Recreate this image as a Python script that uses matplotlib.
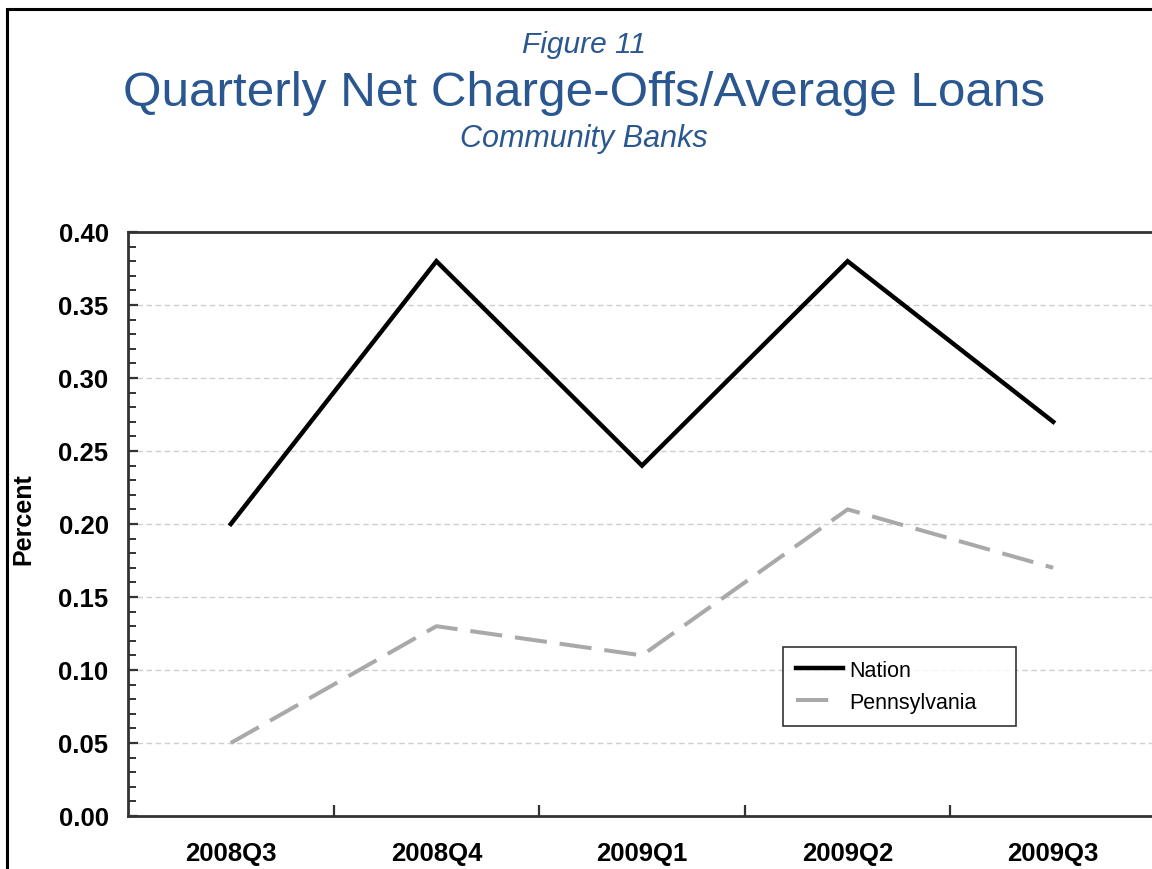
import numpy as np
import matplotlib.pyplot as plt
from matplotlib.patches import Rectangle
from matplotlib.ticker import MultipleLocator

quarters = ['2008Q3', '2008Q4', '2009Q1', '2009Q2', '2009Q3']
nation = [0.20, 0.38, 0.24, 0.38, 0.27]
pennsylvania = [0.05, 0.13, 0.11, 0.21, 0.17]

TITLE_BLUE = '#2b5791'

plt.rcParams['font.family'] = ['Liberation Sans', 'DejaVu Sans']

fig = plt.figure(figsize=(11.52, 8.70), dpi=100)
W, H = 1152, 870

# thin black frame round the whole chart (runs off the right and bottom)
fig.patches.append(Rectangle((6.5 / W, -0.05), 1.2, 1.05 - 9.5 / H,
                             transform=fig.transFigure, fill=False,
                             edgecolor='black', linewidth=2.2, zorder=0))

ax = fig.add_axes([128 / W, 1 - 817 / H, (1156 - 128) / W, (817 - 233) / H])
AW, AH = 1156 - 128, 817 - 233

x = np.arange(len(quarters))
ax.plot(x, nation, color='black', linewidth=3.2, label='Nation',
        solid_joinstyle='miter', zorder=3)
ax.plot(x, pennsylvania, color='#a9a9a9', linewidth=2.9, label='Pennsylvania',
        dashes=(8, 3.2), zorder=3)

ax.set_xlim(-0.5, len(quarters) - 0.5)
ax.set_ylim(0, 0.40)

ax.yaxis.set_major_locator(MultipleLocator(0.05))
ax.yaxis.set_minor_locator(MultipleLocator(0.01))
ax.set_yticklabels([f'{v:.2f}' for v in ax.get_yticks()])
ax.tick_params(axis='y', which='major', direction='in', length=7, width=1.6,
               color='#333333', labelsize=18.5, pad=14)
ax.tick_params(axis='y', which='minor', direction='in', length=6, width=1.4,
               color='#333333')

# category labels sit between the boundary ticks
ax.set_xticks(np.arange(0.5, len(quarters) - 0.5))
ax.set_xticks(x, minor=True)
ax.set_xticklabels([])
ax.set_xticklabels(quarters, minor=True)
ax.tick_params(axis='x', which='major', direction='in', length=8, width=1.6,
               color='#333333')
ax.tick_params(axis='x', which='minor', length=0, labelsize=18.5, pad=18)
for lbl in ax.get_yticklabels() + ax.get_xticklabels(minor=True):
    lbl.set_fontweight('bold')

for yv in np.arange(0.05, 0.40, 0.05):
    ax.axhline(yv, color='#cfcfcf', linewidth=1.0, dashes=(4, 2.5), zorder=1)

for s in ax.spines.values():
    s.set_color('#333333')
    s.set_linewidth(2.0)

ax.set_ylabel('Percent', fontsize=18, fontweight='bold')
ax.yaxis.set_label_coords(-(128 - 35) / AW, (817 - 519) / AH)

leg = ax.legend(loc='upper left', mode='expand',
                bbox_to_anchor=((783 - 128) / AW, (817 - 648) / AH,
                                (1016 - 783) / AW, 0.0),
                fontsize=15.5, frameon=True, fancybox=False, edgecolor='black',
                handlelength=2.2, handletextpad=0.3, borderpad=0.6,
                labelspacing=0.5, borderaxespad=0)
leg.get_frame().set_linewidth(1.2)
leg.legend_handles[1].set_dashes((8, 10))

cx = 584 / W
fig.text(cx, 1 - 45 / H, 'Figure 11', ha='center', va='center',
         fontsize=21.5, style='italic', color=TITLE_BLUE)
fig.text(cx, 1 - 93 / H, 'Quarterly Net Charge-Offs/Average Loans',
         ha='center', va='center', fontsize=35.6, color=TITLE_BLUE)
fig.text(cx, 1 - 139 / H, 'Community Banks', ha='center', va='center',
         fontsize=22, style='italic', color=TITLE_BLUE)

fig.savefig('out.png', dpi=100)
